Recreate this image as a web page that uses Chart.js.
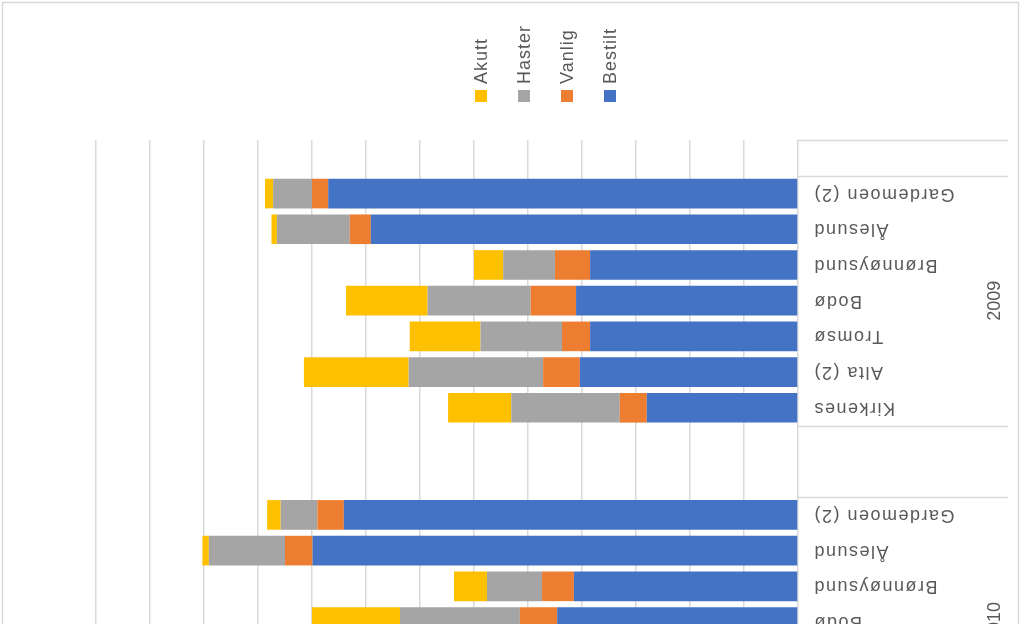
<!DOCTYPE html>
<html>
<head>
<meta charset="utf-8">
<script src="https://cdn.jsdelivr.net/npm/chart.js@4.4.1/dist/chart.umd.min.js"></script>
<style>
  html, body { margin: 0; padding: 0; background: #fff; overflow: hidden; }
  #wrap { width: 1024px; height: 624px; overflow: hidden; }
</style>
</head>
<body>
<div id="wrap"><canvas id="myBarChart" width="1024" height="760"></canvas></div>
<script>
    // categories (top to bottom), '' = empty slot
    const labels = ['', 'Gardemoen (2)', 'Ålesund', 'Brønnøysund', 'Bodø', 'Tromsø', 'Alta (2)', 'Kirkenes',
                    '', '', 'Gardemoen (2)', 'Ålesund', 'Brønnøysund', 'Bodø', 'Tromsø', 'Alta (2)', 'Kirkenes'];
    const years = ['2009', '2010'];

    // series (2010 Tromsø/Alta/Kirkenes are outside the crop)
    const akutt   = [null, 1.5, 1.0, 5.4, 15.1, 13.1, 19.4, 11.7, null, null, 2.5, 1.2, 6.1, 16.3, null, null, null];
    const haster  = [null, 7.2, 13.5, 9.6, 19.1, 15.1, 24.9, 20.1, null, null, 6.8, 14.1, 10.2, 22.2, null, null, null];
    const vanlig  = [null, 3.0, 3.9, 6.5, 8.4, 5.2, 6.8, 5.0, null, null, 4.9, 5.1, 5.9, 6.9, null, null, null];
    const bestilt = [null, 87.0, 79.1, 38.5, 41.1, 38.5, 40.4, 28.0, null, null, 84.1, 89.9, 41.5, 44.6, null, null, null];

    const legendNames = ['Akutt', 'Haster', 'Vanlig', 'Bestilt'];
    const colors = { Akutt: '#FFC000', Haster: '#A5A5A5', Vanlig: '#ED7D31', Bestilt: '#4472C4' };

    const textColor = '#595959';
    const lineColor = '#D9D9D9';

    // rotated labels, year groups, legend, frame
    const decorations = {
      id: 'decorations',
      afterDraw(chart) {
        const ctx = chart.ctx;
        const y = chart.scales.y;
        const area = chart.chartArea;
        const half = (y.getPixelForValue(1) - y.getPixelForValue(0)) / 2;
        const axisX = area.right;
        const outerX = 1008;

        ctx.save();

        // frame
        ctx.strokeStyle = lineColor;
        ctx.lineWidth = 1.5;
        ctx.strokeRect(2.5, 2.5, 1016, 900);

        // groups = runs of non-empty labels
        const runs = [];
        let start = -1;
        labels.forEach((l, i) => {
          if (l !== '' && start < 0) start = i;
          if ((l === '' || i === labels.length - 1) && start >= 0) {
            runs.push([start, l === '' ? i - 1 : i]);
            start = -1;
          }
        });

        // separators
        const seps = [y.getPixelForValue(0) - half];
        runs.forEach(r => {
          seps.push(y.getPixelForValue(r[0]) - half);
          seps.push(y.getPixelForValue(r[1]) + half);
        });
        ctx.beginPath();
        seps.forEach(p => {
          const py = Math.round(p) + 0.5;
          ctx.moveTo(axisX, py);
          ctx.lineTo(outerX, py);
        });
        ctx.stroke();

        // city labels, upside down
        ctx.fillStyle = textColor;
        ctx.font = '18px "Liberation Sans", Arial, sans-serif';
        ctx.letterSpacing = '1.5px';
        ctx.textAlign = 'right';
        ctx.textBaseline = 'middle';
        labels.forEach((l, i) => {
          if (!l) return;
          ctx.save();
          ctx.translate(813, y.getPixelForValue(i));
          ctx.rotate(Math.PI);
          ctx.fillText(l, 0, 0);
          ctx.restore();
        });

        // year labels
        ctx.letterSpacing = '0px';
        ctx.textAlign = 'center';
        runs.forEach((r, k) => {
          const cy = (y.getPixelForValue(r[0]) + y.getPixelForValue(r[1])) / 2;
          ctx.save();
          ctx.translate(995, cy);
          ctx.rotate(-Math.PI / 2);
          ctx.fillText(years[k], 0, 0);
          ctx.restore();
        });

        // legend
        ctx.letterSpacing = '1px';
        ctx.textAlign = 'left';
        legendNames.forEach((name, k) => {
          const cx = 481 + k * 43;
          ctx.fillStyle = colors[name];
          ctx.fillRect(cx - 6, 90, 12, 12);
          ctx.save();
          ctx.translate(cx + 1, 84);
          ctx.rotate(-Math.PI / 2);
          ctx.fillStyle = textColor;
          ctx.fillText(name, 0, 0);
          ctx.restore();
        });

        ctx.restore();
      }
    };

    const data = {
      labels: labels,
      datasets: [
        { label: 'Bestilt', data: bestilt, backgroundColor: colors.Bestilt },
        { label: 'Vanlig', data: vanlig, backgroundColor: colors.Vanlig },
        { label: 'Haster', data: haster, backgroundColor: colors.Haster },
        { label: 'Akutt', data: akutt, backgroundColor: colors.Akutt }
      ]
    };

    // config
    const config = {
      type: 'bar',
      data: data,
      options: {
        indexAxis: 'y',
        responsive: false,
        animation: false,
        devicePixelRatio: 1,
        categoryPercentage: 0.83,
        barPercentage: 1.0,
        layout: { padding: { left: 96, right: 226, top: 140, bottom: 13 } },
        plugins: {
          legend: { display: false },
          tooltip: { enabled: false }
        },
        scales: {
          x: {
            stacked: true,
            reverse: true,
            min: 0,
            max: 130,
            ticks: { display: false, stepSize: 10 },
            grid: { color: lineColor, lineWidth: 1.5, drawTicks: false },
            border: { display: false }
          },
          y: {
            stacked: true,
            display: false
          }
        }
      },
      plugins: [decorations]
    };

    // render init block
    const myBarChart = new Chart(
      document.getElementById('myBarChart'),
      config
    );
</script>
</body>
</html>
